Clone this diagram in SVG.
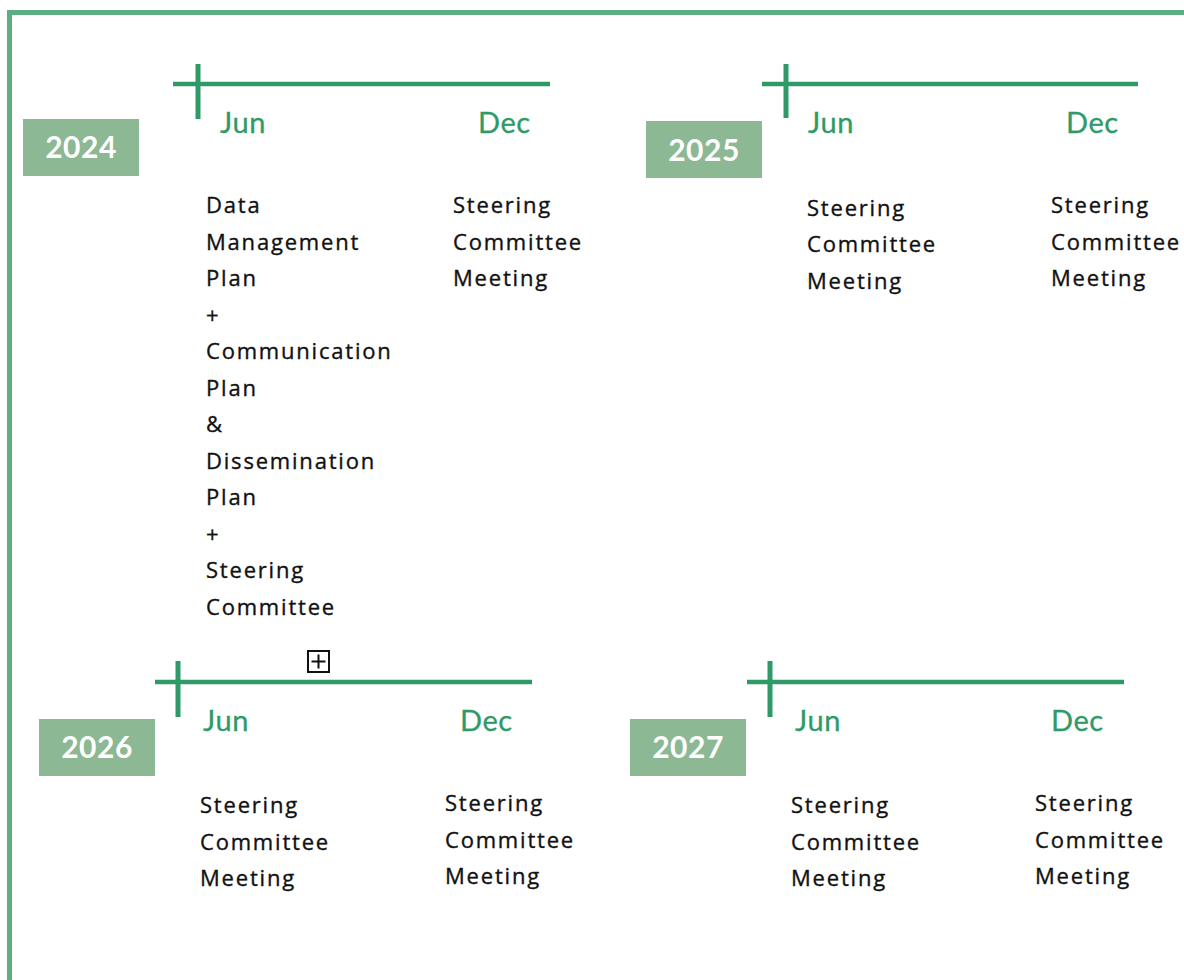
<svg xmlns="http://www.w3.org/2000/svg" width="1184" height="980" viewBox="0 0 1184 980">
<style>
.frame{fill:none;stroke:#5cae83;stroke-width:5}
.axis{stroke:#2f9a67;stroke-width:4.5;fill:none}
.tick{stroke:#2f9a67;stroke-width:5;fill:none}
.ybox{fill:#8cb893}
.ytxt{font-family:Lato,"Liberation Sans",sans-serif;font-weight:bold;font-size:30px;fill:#ffffff;text-anchor:middle;letter-spacing:0.5px}
.mon{font-family:Lato,"Liberation Sans",sans-serif;font-size:29px;fill:#2f9a67;stroke:#2f9a67;stroke-width:0.3px;letter-spacing:0.6px}
.body{font-family:"Open Sans","Liberation Sans",sans-serif;font-size:22px;fill:#111111;stroke:#111111;stroke-width:0.35px;letter-spacing:1.8px}
</style>
<rect width="1184" height="980" fill="#ffffff"/>
<path class="frame" d="M9.5,980 V12.5 H1184"/>

<g id="year-2024">
  <line class="axis" x1="173" y1="84" x2="550" y2="84"/>
  <line class="tick" x1="198" y1="64" x2="198" y2="119"/>
  <rect class="ybox" x="23" y="119" width="116" height="57"/>
  <text class="ytxt" x="81" y="158">2024</text>
  <text class="mon" x="220" y="133">Jun</text>
  <text class="mon" x="478" y="133">Dec</text>
  <text class="body" x="206" y="213">Data</text>
  <text class="body" x="206" y="250">Management</text>
  <text class="body" x="206" y="286">Plan</text>
  <text class="body" x="206" y="323">+</text>
  <text class="body" x="206" y="359">Communication</text>
  <text class="body" x="206" y="396">Plan</text>
  <text class="body" x="206" y="432">&amp;</text>
  <text class="body" x="206" y="469">Dissemination</text>
  <text class="body" x="206" y="505">Plan</text>
  <text class="body" x="206" y="542">+</text>
  <text class="body" x="206" y="578">Steering</text>
  <text class="body" x="206" y="615">Committee</text>
  <text class="body" x="453" y="213">Steering</text>
  <text class="body" x="453" y="250">Committee</text>
  <text class="body" x="453" y="286">Meeting</text>
</g>

<g id="year-2025">
  <line class="axis" x1="762" y1="84" x2="1138" y2="84"/>
  <line class="tick" x1="786" y1="64" x2="786" y2="118"/>
  <rect class="ybox" x="646" y="121" width="116" height="57"/>
  <text class="ytxt" x="704" y="161">2025</text>
  <text class="mon" x="808" y="133">Jun</text>
  <text class="mon" x="1066" y="133">Dec</text>
  <text class="body" x="807" y="216">Steering</text>
  <text class="body" x="807" y="252">Committee</text>
  <text class="body" x="807" y="289">Meeting</text>
  <text class="body" x="1051" y="213">Steering</text>
  <text class="body" x="1051" y="250">Committee</text>
  <text class="body" x="1051" y="286">Meeting</text>
</g>

<g id="year-2026">
  <line class="axis" x1="155" y1="682" x2="532" y2="682"/>
  <line class="tick" x1="178" y1="661" x2="178" y2="717"/>
  <rect class="ybox" x="39" y="719" width="116" height="57"/>
  <text class="ytxt" x="97" y="758">2026</text>
  <text class="mon" x="203" y="731">Jun</text>
  <text class="mon" x="460" y="731">Dec</text>
  <text class="body" x="200" y="813">Steering</text>
  <text class="body" x="200" y="850">Committee</text>
  <text class="body" x="200" y="886">Meeting</text>
  <text class="body" x="445" y="811">Steering</text>
  <text class="body" x="445" y="848">Committee</text>
  <text class="body" x="445" y="884">Meeting</text>
</g>

<g id="expand-icon">
  <rect x="308" y="651" width="21" height="21" fill="#ffffff" stroke="#111111" stroke-width="2"/>
  <path d="M311.5,661.5 H325.5 M318.5,654.5 V668.5" stroke="#111111" stroke-width="2" fill="none"/>
</g>

<g id="year-2027">
  <line class="axis" x1="747" y1="682" x2="1124" y2="682"/>
  <line class="tick" x1="770" y1="661" x2="770" y2="717"/>
  <rect class="ybox" x="630" y="719" width="116" height="57"/>
  <text class="ytxt" x="688" y="758">2027</text>
  <text class="mon" x="795" y="731">Jun</text>
  <text class="mon" x="1051" y="731">Dec</text>
  <text class="body" x="791" y="813">Steering</text>
  <text class="body" x="791" y="850">Committee</text>
  <text class="body" x="791" y="886">Meeting</text>
  <text class="body" x="1035" y="811">Steering</text>
  <text class="body" x="1035" y="848">Committee</text>
  <text class="body" x="1035" y="884">Meeting</text>
</g>

<g id="connectors"></g>
</svg>
